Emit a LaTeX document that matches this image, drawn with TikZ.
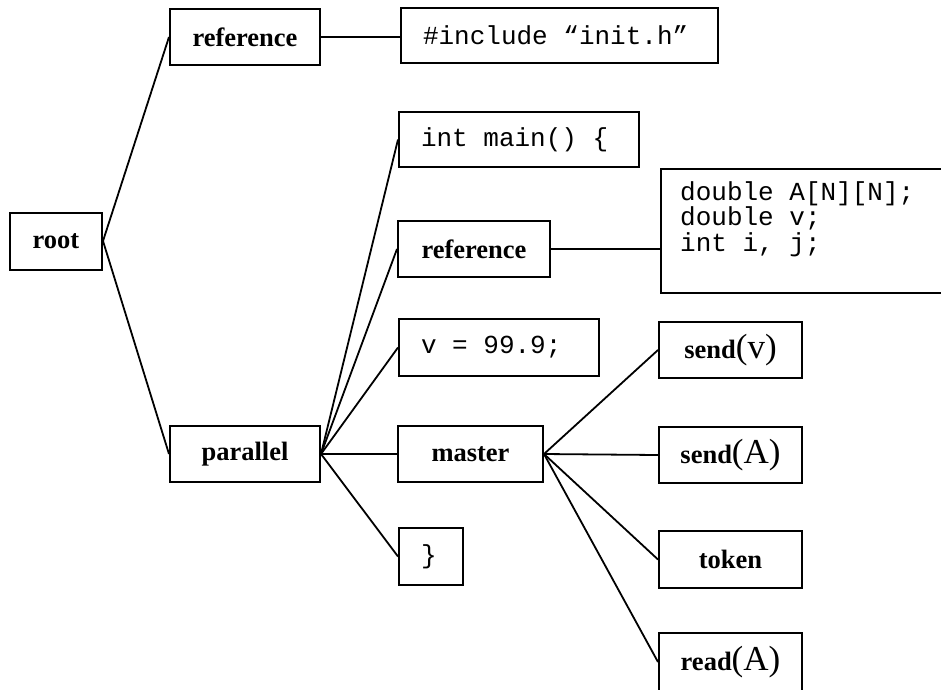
\documentclass[tikz,border=0pt]{standalone}
\usepackage{fontspec}
\setmainfont{Liberation Serif}
\setmonofont{Liberation Mono}
\newcommand{\monosp}{\fontdimen2\font=0.6em\fontdimen3\font=0pt\fontdimen4\font=0pt\relax}
\newcommand{\codeline}[2]{\makebox[#1][l]{#2}}
\begin{document}
\begin{tikzpicture}[x=1pt,y=-1pt,
  box/.style={draw, line width=2pt, inner sep=0pt, minimum height=56pt},
  lbl/.style={font=\fontsize{26.5}{30}\selectfont\bfseries},
  code/.style={font=\fontsize{26}{30}\selectfont\ttfamily\monosp},
  codebox/.style={box, code, anchor=west, inner xsep=22pt},
  conn/.style={line width=1.8pt}]
\useasboundingbox (0,0) rectangle (941,689);
\clip (0,0) rectangle (941,689);
\newcommand{\argtxt}[1]{{\fontsize{35}{38}\selectfont\mdseries #1}}
% left column
\node[box, lbl, minimum width=92pt, minimum height=57pt] (root) at (56,241) {root};
\node[box, lbl, minimum width=150pt] (ref1) at (245,37) {reference};
\node[box, lbl, minimum width=150pt] (par) at (245,454) {parallel};
% code boxes
\node[codebox, minimum height=55pt] (inc) at (400,35.5) {\codeline{273pt}{\#include “init.h”}};
\node[codebox, minimum height=55pt] (main) at (398,139.5) {\codeline{196pt}{int main() \{}};
\node[box, lbl, minimum width=152pt] (ref2) at (474,249) {reference};
\node[codebox, minimum height=57pt] (vset) at (398,347.5) {\codeline{156pt}{v = 99.9;}};
\node[box, lbl, minimum width=145pt] (master) at (470.5,454) {master};
\node[codebox, minimum height=57pt] (brace) at (398,556.5) {\codeline{20pt}{\}}};
% declarations box (cropped at right)
\node[box, anchor=north west, minimum width=320pt, minimum height=124pt] (dbl) at (660,168) {};
\node[anchor=north west, align=left, inner sep=0pt, font=\fontsize{26}{25.5}\selectfont\ttfamily\monosp] (dbltxt) at (680,181) {double A[N][N];\\double v;\\int i, j;};
% master children
\node[box, lbl, minimum width=143pt] (sendv) at (730.5,350) {send\argtxt{(v)}};
\node[box, lbl, minimum width=143pt] (senda) at (730.5,455) {send\argtxt{(A)}};
\node[box, lbl, minimum width=143pt, minimum height=57pt] (token) at (730.5,559.5) {token};
\node[box, lbl, minimum width=143pt, minimum height=58pt] (read) at (730.5,662) {read\argtxt{(A)}};
% connectors
\draw[conn] (root.east) -- (ref1.west);
\draw[conn] (root.east) -- (par.west);
\draw[conn] (ref1.east) -- (ref1.east -| inc.west);
\draw[conn] (par.east) -- (main.west);
\draw[conn] (par.east) -- (ref2.west);
\draw[conn] (par.east) -- (vset.west);
\draw[conn] (par.east) -- (master.west);
\draw[conn] (par.east) -- (brace.west);
\draw[conn] (ref2.east) -- (ref2.east -| dbl.west);
\draw[conn] (master.east) -- (sendv.west);
\draw[conn] (master.east) -- (senda.west);
\draw[conn] (master.east) -- (token.west);
\draw[conn] (master.east) -- (read.west);
\end{tikzpicture}
\end{document}
